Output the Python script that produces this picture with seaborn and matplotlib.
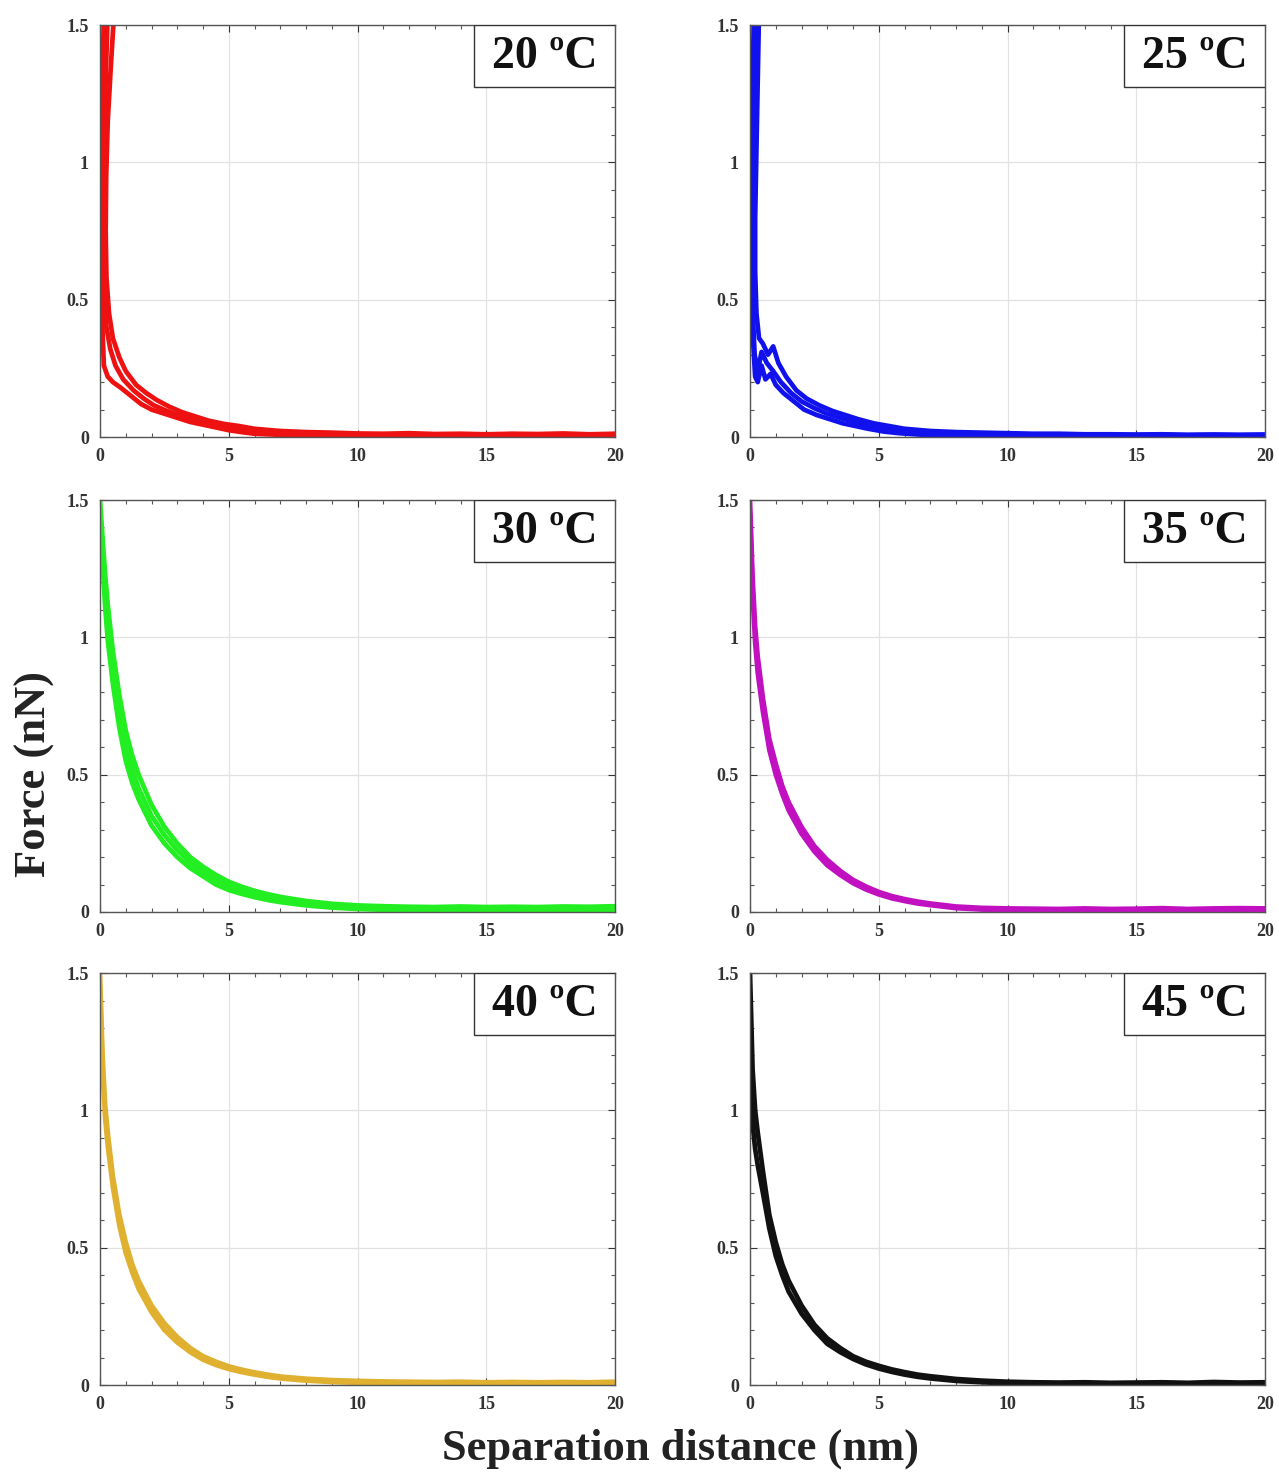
import matplotlib
matplotlib.use("Agg")
import matplotlib.pyplot as plt
import seaborn as sns
from matplotlib.patches import Rectangle
from matplotlib.ticker import MultipleLocator

# temperaturas e cores de cada painel
temperaturas = ["20 ºC", "25 ºC", "30 ºC", "35 ºC", "40 ºC", "45 ºC"]
cores = ["#ee1111", "#1111ee", "#22ee22", "#c010c0", "#e0b030", "#111111"]

tail_x = [7, 8, 9, 10, 11, 12, 13, 14, 15, 16, 17, 18, 19, 20]

# 20 ºC - tres curvas (envelope superior, meio e inferior)
x_20a = [0.55, 0.42, 0.3, 0.24, 0.22, 0.25, 0.35, 0.5, 0.75, 1.0, 1.4, 1.8, 2.2, 2.7, 3.2,
         3.7, 4.2, 4.8, 5.4, 6.0] + tail_x
f_20a = [1.55, 1.35, 1.15, 0.95, 0.75, 0.58, 0.45, 0.36, 0.29, 0.24, 0.19, 0.16, 0.135,
         0.11, 0.09, 0.075, 0.06, 0.048, 0.04, 0.03,
         0.022, 0.018, 0.016, 0.013, 0.012, 0.014, 0.011, 0.012, 0.01, 0.012, 0.011, 0.013, 0.01, 0.012]
x_20b = [0.3, 0.22, 0.15, 0.12, 0.12, 0.16, 0.25, 0.4, 0.6, 0.9, 1.3, 1.7, 2.1, 2.6, 3.1,
         3.6, 4.1, 4.6, 5.1, 5.7] + tail_x
f_20b = [1.55, 1.3, 1.05, 0.85, 0.65, 0.5, 0.4, 0.32, 0.26, 0.21, 0.17, 0.14, 0.115, 0.095,
         0.078, 0.064, 0.052, 0.04, 0.032, 0.024,
         0.015, 0.012, 0.01, 0.009, 0.008, 0.01, 0.008, 0.009, 0.008, 0.01, 0.008, 0.009, 0.008, 0.01]
x_20c = [0.15, 0.1, 0.07, 0.05, 0.06, 0.1, 0.15, 0.3, 0.5, 0.8, 1.2, 1.6, 2.0, 2.5, 3.0,
         3.5, 4.0, 4.5, 5.0, 5.5, 6.0] + tail_x
f_20c = [1.55, 1.3, 1.05, 0.8, 0.55, 0.38, 0.26, 0.22, 0.2, 0.18, 0.15, 0.12, 0.1, 0.085,
         0.07, 0.055, 0.045, 0.035, 0.025, 0.018, 0.012,
         0.008, 0.006, 0.005, 0.005, 0.004, 0.006, 0.004, 0.005, 0.004, 0.006, 0.004, 0.005, 0.004, 0.006]

# 25 ºC
x_25a = [0.35, 0.3, 0.25, 0.2, 0.2, 0.25, 0.35, 0.5, 0.7, 0.9, 1.1, 1.4, 1.8, 2.2, 2.7,
         3.2, 3.7, 4.2, 4.8, 5.4, 6.0] + tail_x
f_25a = [1.55, 1.3, 1.05, 0.8, 0.6, 0.45, 0.36, 0.34, 0.3, 0.33, 0.27, 0.22, 0.17, 0.14,
         0.115, 0.095, 0.08, 0.065, 0.05, 0.04, 0.03,
         0.022, 0.018, 0.016, 0.014, 0.012, 0.012, 0.01, 0.01, 0.009, 0.01, 0.008, 0.009, 0.008, 0.009]
x_25b = [0.2, 0.16, 0.13, 0.1, 0.1, 0.12, 0.18, 0.3, 0.45, 0.65, 0.9, 1.2, 1.6, 2.0, 2.5,
         3.0, 3.5, 4.0, 4.5, 5.0, 5.6] + tail_x
f_25b = [1.55, 1.3, 1.05, 0.8, 0.6, 0.42, 0.3, 0.24, 0.31, 0.27, 0.24, 0.2, 0.16, 0.13,
         0.105, 0.085, 0.07, 0.057, 0.045, 0.036, 0.027,
         0.015, 0.012, 0.01, 0.009, 0.008, 0.009, 0.007, 0.008, 0.007, 0.008, 0.007, 0.008, 0.007, 0.008]
x_25c = [0.15, 0.1, 0.08, 0.06, 0.08, 0.12, 0.2, 0.3, 0.45, 0.6, 0.8, 1.0, 1.3, 1.7, 2.1,
         2.6, 3.1, 3.6, 4.1, 4.6, 5.2, 5.8, 6.4] + tail_x
f_25c = [1.55, 1.25, 1.0, 0.75, 0.5, 0.35, 0.22, 0.2, 0.26, 0.21, 0.23, 0.19, 0.16, 0.13,
         0.1, 0.08, 0.065, 0.05, 0.04, 0.03, 0.02, 0.014, 0.01,
         0.007, 0.005, 0.004, 0.005, 0.003, 0.004, 0.003, 0.004, 0.003, 0.004, 0.003, 0.004, 0.003, 0.004]

grade = [0, 0.1, 0.2, 0.3, 0.5, 0.75, 1.0, 1.25, 1.5, 2, 2.5, 3, 3.5, 4, 4.5, 5, 5.5, 6, 6.5] + tail_x

# 30 ºC
f_30a = [1.5, 1.36, 1.23, 1.12, 0.95, 0.79, 0.66, 0.57, 0.5, 0.39, 0.31, 0.25, 0.2, 0.165,
         0.135, 0.11, 0.092, 0.077, 0.065,
         0.055, 0.04, 0.03, 0.024, 0.021, 0.019, 0.018, 0.02, 0.018, 0.019, 0.018, 0.02, 0.019, 0.021]
f_30b = [1.47, 1.31, 1.17, 1.05, 0.89, 0.73, 0.6, 0.52, 0.45, 0.35, 0.28, 0.225, 0.18, 0.147,
         0.118, 0.095, 0.079, 0.065, 0.054,
         0.045, 0.032, 0.023, 0.017, 0.014, 0.013, 0.012, 0.013, 0.012, 0.013, 0.012, 0.013, 0.012, 0.013]
f_30c = [1.45, 1.27, 1.11, 0.99, 0.83, 0.67, 0.55, 0.47, 0.41, 0.315, 0.25, 0.2, 0.16, 0.13,
         0.1, 0.08, 0.066, 0.054, 0.044,
         0.036, 0.024, 0.016, 0.011, 0.008, 0.007, 0.006, 0.007, 0.006, 0.007, 0.006, 0.007, 0.006, 0.007]

# 35 ºC
f_35a = [1.5, 1.22, 1.04, 0.93, 0.78, 0.63, 0.54, 0.46, 0.4, 0.31, 0.24, 0.19, 0.15, 0.117,
         0.093, 0.073, 0.058, 0.047, 0.038,
         0.031, 0.02, 0.015, 0.013, 0.012, 0.011, 0.013, 0.011, 0.012, 0.014, 0.011, 0.013, 0.014, 0.013]
f_35b = [1.45, 1.16, 0.98, 0.87, 0.73, 0.59, 0.5, 0.43, 0.37, 0.285, 0.22, 0.17, 0.135, 0.105,
         0.082, 0.064, 0.05, 0.04, 0.031,
         0.025, 0.014, 0.009, 0.007, 0.006, 0.007, 0.006, 0.007, 0.006, 0.007, 0.006, 0.007, 0.006, 0.007]

# 40 ºC
f_40a = [1.5, 1.2, 1.02, 0.92, 0.76, 0.62, 0.52, 0.44, 0.38, 0.29, 0.225, 0.175, 0.135, 0.105,
         0.085, 0.068, 0.056, 0.046, 0.038,
         0.031, 0.023, 0.018, 0.015, 0.013, 0.012, 0.011, 0.012, 0.01, 0.011, 0.01, 0.011, 0.01, 0.012]
f_40b = [1.45, 1.14, 0.97, 0.87, 0.72, 0.58, 0.48, 0.41, 0.35, 0.265, 0.2, 0.155, 0.12, 0.092,
         0.073, 0.058, 0.047, 0.038, 0.03,
         0.024, 0.016, 0.011, 0.008, 0.006, 0.005, 0.006, 0.005, 0.006, 0.005, 0.006, 0.005, 0.006, 0.005]

# 45 ºC
f_45a = [1.5, 1.15, 1.0, 0.92, 0.78, 0.62, 0.52, 0.44, 0.38, 0.29, 0.22, 0.17, 0.135, 0.105,
         0.085, 0.07, 0.057, 0.047, 0.038,
         0.032, 0.022, 0.016, 0.012, 0.01, 0.009, 0.01, 0.008, 0.009, 0.01, 0.008, 0.011, 0.009, 0.01]
f_45b = [1.4, 0.95, 0.86, 0.8, 0.7, 0.57, 0.47, 0.4, 0.34, 0.26, 0.2, 0.15, 0.12, 0.095,
         0.075, 0.06, 0.048, 0.038, 0.03,
         0.024, 0.015, 0.01, 0.006, 0.004, 0.003, 0.004, 0.003, 0.004, 0.003, 0.004, 0.003, 0.004, 0.003]

curvas = [
    [(x_20a, f_20a), (x_20b, f_20b), (x_20c, f_20c)],
    [(x_25a, f_25a), (x_25b, f_25b), (x_25c, f_25c)],
    [(grade, f_30a), (grade, f_30b), (grade, f_30c)],
    [(grade, f_35a), (grade, f_35b)],
    [(grade, f_40a), (grade, f_40b)],
    [(grade, f_45a), (grade, f_45b)],
]

sns.set_style("ticks")
plt.rcParams["font.family"] = ["Liberation Serif", "DejaVu Serif"]
plt.rcParams["font.weight"] = "bold"

fig = plt.figure(figsize=(12.79, 14.75), dpi=100)

# posições dos eixos em fração da figura
lefts = [0.0782, 0.5864]
bottoms = [0.7037, 0.3817, 0.061]
largura, altura = 0.4027, 0.2793

for i, (temp, cor, tracos) in enumerate(zip(temperaturas, cores, curvas)):
    ax = fig.add_axes([lefts[i % 2], bottoms[i // 2], largura, altura])
    for xs, fs in tracos:
        sns.lineplot(x=xs, y=fs, sort=False, estimator=None, color=cor, lw=3.4, ax=ax)
    ax.set_xlim(0, 20)
    ax.set_ylim(0, 1.5)
    ax.set_xticks([0, 5, 10, 15, 20])
    ax.set_yticks([0, 0.5, 1, 1.5])
    ax.set_yticklabels(["0", "0.5", "1", "1.5"])
    ax.xaxis.set_minor_locator(MultipleLocator(1))
    ax.yaxis.set_minor_locator(MultipleLocator(0.1))
    ax.tick_params(which="both", direction="in", top=True, right=True, color="#555555")
    ax.tick_params(which="major", length=5, width=0.8, labelsize=13, colors="#333333",
                   pad=8)
    ax.tick_params(which="minor", length=3, width=0.8)
    ax.grid(True, which="major", color="#e2e2e2", lw=0.9)
    for s in ax.spines.values():
        s.set_color("#555555")
        s.set_linewidth(1.0)
    for lab in ax.get_xticklabels() + ax.get_yticklabels():
        lab.set_fontweight("bold")
    # caixa com a temperatura
    ax.add_patch(Rectangle((0.726, 0.85), 0.274, 0.15, transform=ax.transAxes,
                           facecolor="white", edgecolor="#333333", lw=1.0, zorder=5))
    ax.text(0.863, 0.922, temp, transform=ax.transAxes, ha="center", va="center",
            fontsize=33, fontweight="bold", color="#111111", zorder=6)

fig.text(0.027, 0.475, "Force (nN)", rotation=90, ha="center", va="center",
         fontsize=32, fontweight="bold", color="#222222")
fig.text(0.532, 0.018, "Separation distance (nm)", ha="center", va="center",
         fontsize=32, fontweight="bold", color="#222222")

fig.savefig("out.png", dpi=100)
